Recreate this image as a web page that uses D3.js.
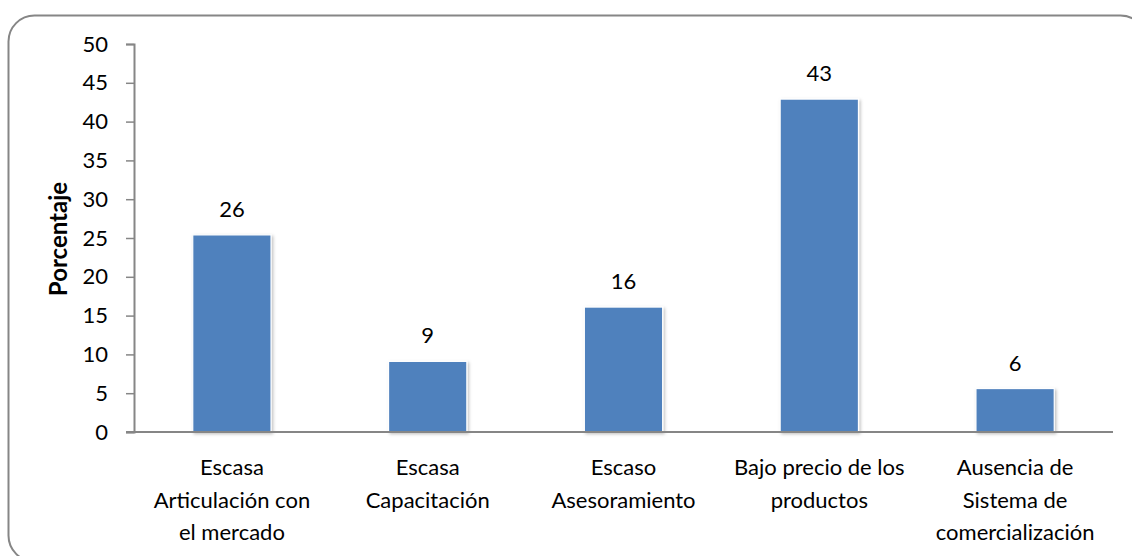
<!DOCTYPE html>
<html><head><meta charset="utf-8">
<script src="https://cdn.jsdelivr.net/npm/d3@7"></script>
<style>body{margin:0;background:#fff;} svg{display:block;} text{font-family:Lato,"Open Sans",sans-serif;fill:#000;}</style>
</head><body>
<svg id="c" width="1132" height="556"></svg>
<script>
const categories = [
  ["Escasa","Articulación con","el mercado"],
  ["Escasa","Capacitación"],
  ["Escaso","Asesoramiento"],
  ["Bajo precio de los","productos"],
  ["Ausencia de","Sistema de","comercialización"]
];
const values = [25.4, 9.1, 16.1, 42.9, 5.6];
const valueLabels = ["26","9","16","43","6"];
const yTicks = [0,5,10,15,20,25,30,35,40,45,50];
const yTitle = "Porcentaje";

(function(){
const FS = 22;
const svg = d3.select("#c");
const defs = svg.append("defs");
const f = defs.append("filter").attr("id","sh").attr("x","-20%").attr("y","-20%").attr("width","140%").attr("height","140%");
f.append("feDropShadow").attr("dx",1.5).attr("dy",1.5).attr("stdDeviation",1.5).attr("flood-color","#000").attr("flood-opacity",0.25);

svg.append("rect").attr("x",8.5).attr("y",15.5).attr("width",1138).attr("height",546)
  .attr("rx",26).attr("ry",26).attr("fill","#fff").attr("stroke","#868686").attr("stroke-width",2);

const pL=134, pR=1113, pT=44, pB=432;
const x = d3.scaleBand().domain(d3.range(categories.length)).range([pL,pR]).paddingInner(0.6).paddingOuter(0.3);
const y = d3.scaleLinear().domain([0,50]).range([pB,pT]);

svg.append("g").selectAll("rect").data(values).join("rect")
  .attr("x",(d,i)=>x(i)).attr("y",d=>y(d)).attr("width",x.bandwidth()).attr("height",d=>y(0)-y(d))
  .attr("fill","#4F81BD").attr("stroke","#fff").attr("stroke-width",1.2).attr("filter","url(#sh)");

const ya = svg.append("g").attr("transform",`translate(${pL},0)`)
  .call(d3.axisLeft(y).tickValues(yTicks).tickSize(8).tickPadding(18).tickSizeOuter(8));
ya.select(".domain").attr("stroke","#868686").attr("stroke-width",2);
ya.selectAll(".tick line").attr("stroke","#868686").attr("stroke-width",1.5);
ya.selectAll(".tick text").attr("font-size",FS).attr("font-family","Lato").attr("fill","#000");

svg.append("line").attr("x1",pL-8).attr("x2",pR).attr("y1",pB).attr("y2",pB)
  .attr("stroke","#868686").attr("stroke-width",2);

svg.append("g").selectAll("text").data(values).join("text")
  .attr("x",(d,i)=>x(i)+x.bandwidth()/2).attr("y",d=>y(d)-18)
  .attr("text-anchor","middle").attr("font-size",FS).text((d,i)=>valueLabels[i]);

const cg = svg.append("g").selectAll("text").data(categories).join("text")
  .attr("x",(d,i)=>x(i)+x.bandwidth()/2).attr("y",475).attr("text-anchor","middle").attr("font-size",FS);
cg.each(function(lines,i){
  const t=d3.select(this);
  lines.forEach((l,j)=>t.append("tspan").attr("x",x(i)+x.bandwidth()/2).attr("y",475+j*32.5).text(l));
});

svg.append("text").attr("transform",`translate(67,239) rotate(-90)`).attr("text-anchor","middle")
  .attr("font-size",24).attr("font-weight","bold").text(yTitle);
})();
</script>
</body></html>
